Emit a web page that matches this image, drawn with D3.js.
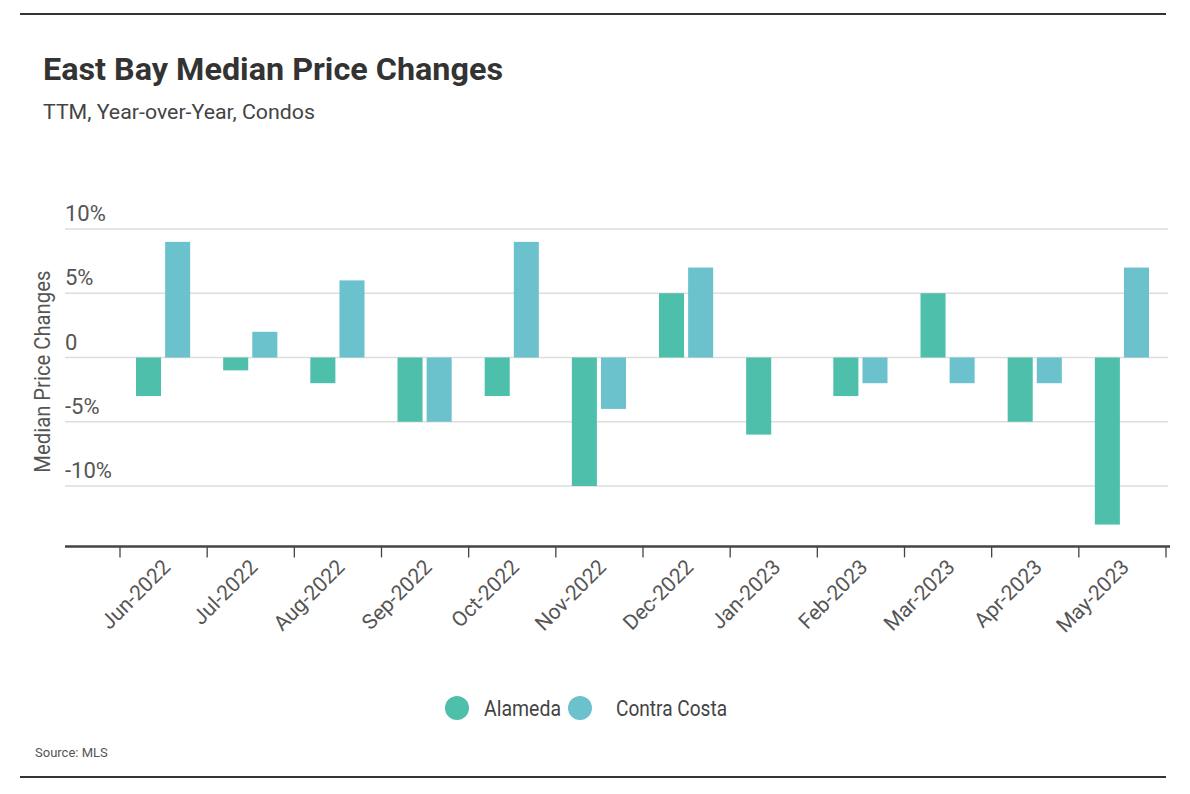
<!DOCTYPE html>
<html><head><meta charset="utf-8">
<script src="https://cdn.jsdelivr.net/npm/d3@7.9.0/dist/d3.min.js"></script>
<style>body{margin:0;background:#fff}svg{display:block}text{font-family:Roboto,"DejaVu Sans Condensed",sans-serif}</style>
</head><body><svg width="1190" height="794"></svg>
<script>
const months=['Jun-2022','Jul-2022','Aug-2022','Sep-2022','Oct-2022','Nov-2022','Dec-2022','Jan-2023','Feb-2023','Mar-2023','Apr-2023','May-2023'];
const alameda=[-3,-1,-2,-5,-3,-10,5,-6,-3,5,-5,-13];
const contraCosta=[9,2,6,-5,9,-4,7,0,-2,-2,-2,7];
const series=['Alameda','Contra Costa'];
const yTicks=[-10,-5,0,5,10];
const colors=['#4dbfab','#6bc2cc'];

const svg=d3.select('svg');
const x=d3.scaleBand().domain(months).range([120,1166]);
const xs=d3.scaleBand().domain(series).range([16,x.bandwidth()-17]).paddingInner(0.14);
const y=d3.scaleLinear().domain([-10,10]).range([486,229]);
const yBot=y(-14.7);

svg.append('line').attr('x1',20).attr('x2',1166).attr('y1',14).attr('y2',14).attr('stroke','#333').attr('stroke-width',2);
svg.append('line').attr('x1',20).attr('x2',1166).attr('y1',777).attr('y2',777).attr('stroke','#333').attr('stroke-width',2);

svg.append('text').attr('x',43).attr('y',80).attr('font-size',31).attr('font-weight','bold').attr('fill','#333')
  .attr('textLength',460).attr('lengthAdjust','spacingAndGlyphs').text('East Bay Median Price Changes');
svg.append('text').attr('x',43).attr('y',119).attr('font-size',21).attr('fill','#444')
  .attr('textLength',272).attr('lengthAdjust','spacingAndGlyphs').text('TTM, Year-over-Year, Condos');

// grid + y labels
const g=svg.append('g');
yTicks.forEach(t=>{
  g.append('line').attr('x1',65).attr('x2',1168).attr('y1',y(t)).attr('y2',y(t)).attr('stroke','#ddd').attr('stroke-width',1.3);
  g.append('text').attr('x',65).attr('y',y(t)-8).attr('font-size',22).attr('fill','#555').text(t===0?'0':t+'%');
});
svg.append('text').attr('transform',`translate(50,${y(-1.1)}) rotate(-90)`).attr('text-anchor','middle').attr('font-size',22).attr('fill','#555')
  .attr('textLength',202).attr('lengthAdjust','spacingAndGlyphs').text('Median Price Changes');

// bars
const data=months.map((m,i)=>({m,vals:[alameda[i],contraCosta[i]]}));
const grp=svg.append('g').selectAll('g').data(data).join('g').attr('transform',d=>`translate(${x(d.m)},0)`);
grp.selectAll('rect').data(d=>d.vals.map((v,j)=>({v,s:series[j],c:colors[j]}))).join('rect')
  .attr('x',d=>xs(d.s)).attr('width',xs.bandwidth())
  .attr('y',d=>y(Math.max(0,d.v))).attr('height',d=>Math.abs(y(d.v)-y(0)))
  .attr('fill',d=>d.c);

// x axis
svg.append('line').attr('x1',65).attr('x2',1170).attr('y1',yBot).attr('y2',yBot).attr('stroke','#444').attr('stroke-width',2.5);
const ticks=months.map(m=>x(m)).concat([x.range()[1]]);
ticks.forEach(t=>svg.append('line').attr('x1',t).attr('x2',t).attr('y1',yBot).attr('y2',yBot+11).attr('stroke','#444').attr('stroke-width',1.3));
months.forEach(m=>{
  const cx=x(m)+x.bandwidth()/2+8;
  svg.append('text').attr('transform',`translate(${cx},${yBot+22}) rotate(-45)`).attr('text-anchor','end').attr('font-size',21).attr('fill','#555').text(m);
});

// legend
const leg=[{s:series[0],cx:457,tx:484,w:77},{s:series[1],cx:580,tx:616,w:111}];
leg.forEach((l,i)=>{
  svg.append('circle').attr('cx',l.cx).attr('cy',708).attr('r',12).attr('fill',colors[i]);
  svg.append('text').attr('x',l.tx).attr('y',716).attr('font-size',22).attr('fill','#444')
    .attr('textLength',l.w).attr('lengthAdjust','spacingAndGlyphs').text(l.s);
});
svg.append('text').attr('x',35).attr('y',757).attr('font-size',13).attr('fill','#555').text('Source:  MLS');
</script></body></html>
